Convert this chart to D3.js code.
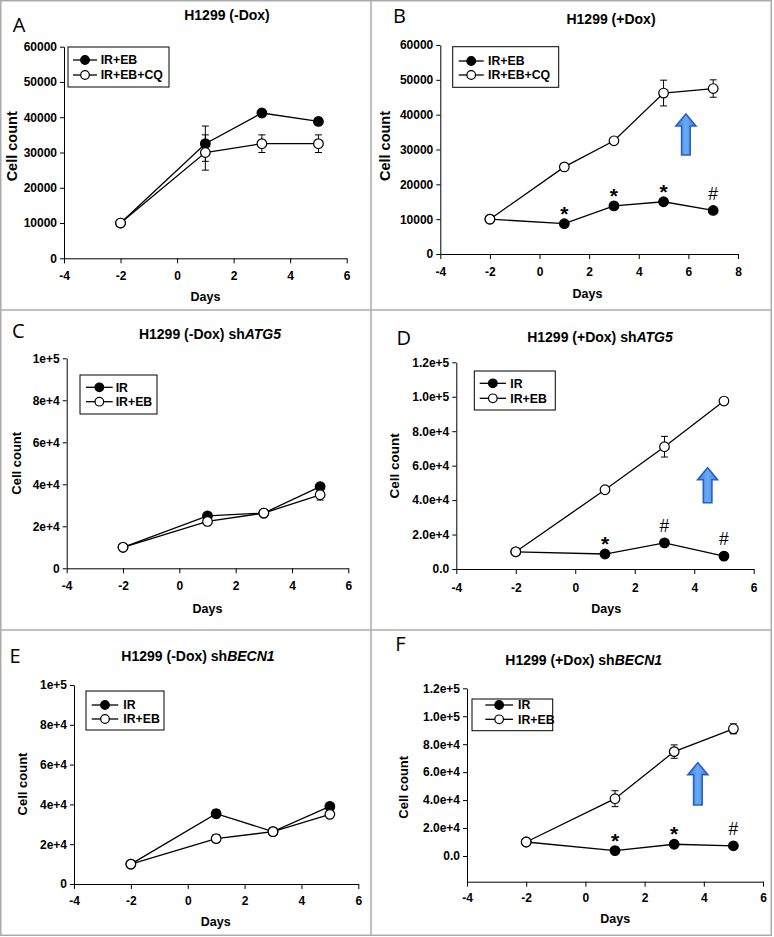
<!DOCTYPE html>
<html><head><meta charset="utf-8">
<script src="https://cdn.jsdelivr.net/npm/d3@7"></script>
<style>
html,body{margin:0;padding:0;background:#fff;}
svg{display:block;}
</style></head>
<body>
<svg id="chart" width="774" height="937"></svg>
<script>
// ---------------- DATA ----------------
const daysAll = [-2, 1, 3, 5];
const daysB = [-2, 1, 3, 5, 7];

const aFilled = [10000, 32500, 41200, 38800];
const aFilledErr = [0, 5000, 1000, 1000];
const aOpen = [10000, 30000, 32500, 32500];
const aOpenErr = [0, 5000, 2500, 2500];

const bFilled = [10000, 8700, 13800, 15000, 12500];
const bFilledErr = [0, 800, 1000, 500, 400];
const bOpen = [10000, 25000, 32500, 46200, 47500];
const bOpenErr = [0, 300, 300, 3700, 2500];

const cFilled = [10000, 25000, 26300, 38900];
const cFilledErr = [0, 1500, 500, 1000];
const cOpen = [10000, 22300, 26300, 35000];
const cOpenErr = [0, 2000, 500, 2500];

const dFilled = [10000, 8700, 15200, 7500];
const dFilledErr = [0, 500, 500, 500];
const dOpen = [10000, 46000, 71000, 97500];
const dOpenErr = [0, 800, 6000, 2000];

const eFilled = [10000, 35300, 26300, 39000];
const eFilledErr = [0, 2000, 500, 800];
const eOpen = [10000, 22800, 26300, 35000];
const eOpenErr = [0, 2000, 500, 1500];

const fFilled = [10000, 3800, 8400, 7300];
const fFilledErr = [0, 500, 500, 500];
const fOpen = [10000, 41000, 74700, 91000];
const fOpenErr = [0, 5700, 4800, 3600];

const legendCQ = ["IR+EB", "IR+EB+CQ"];
const legendEB = ["IR", "IR+EB"];

const xTicks6 = [-4, -2, 0, 2, 4, 6];
const xTicks8 = [-4, -2, 0, 2, 4, 6, 8];
const xTickLabels6 = ["-4", "-2", "0", "2", "4", "6"];
const xTickLabels8 = ["-4", "-2", "0", "2", "4", "6", "8"];
const yTicksAB = [0, 10000, 20000, 30000, 40000, 50000, 60000];
const yLabelsAB = ["0", "10000", "20000", "30000", "40000", "50000", "60000"];
const yTicksCE = [0, 20000, 40000, 60000, 80000, 100000];
const yLabelsCE = ["0", "2e+4", "4e+4", "6e+4", "8e+4", "1e+5"];
const yTicksDF = [0, 20000, 40000, 60000, 80000, 100000, 120000];
const yLabelsDF = ["0.0", "2.0e+4", "4.0e+4", "6.0e+4", "8.0e+4", "1.0e+5", "1.2e+5"];

const bMarks = [[1, "*"], [3, "*"], [5, "*"], [7, "#"]];
const dMarks = [[1, "*"], [3, "#"], [5, "#"]];
const fMarks = [[1, "*"], [3, "*"], [5, "#"]];

// arrows: [day, tip value, base value]
const bArrow = [5.9, 40200, 28400];
const dArrow = [4.45, 58800, 38500];
const fArrow = [3.8, 66800, 36500];

// ---------------- LAYOUT ----------------
const panels = [
  { letter: "A", title: ["H1299 (-Dox)", ""], days: daysAll, filled: aFilled, filledErr: aFilledErr, open: aOpen, openErr: aOpenErr,
    legend: legendCQ, xTicks: xTicks6, xLabels: xTickLabels6, yTicks: yTicksAB, yLabels: yLabelsAB,
    xDom: [-4, 6], yDom: [0, 60000], x0: 64, x1: 346.7, yTop: 46.7, yBot: 258.3,
    letterPos: [19, 24.5], titlePos: [227, 15.3], ylabPos: [12, 146.3], ylabSize: 14.5, daysPos: [205.5, 296.7],
    legBox: [68, 47, 101, 40], legRows: [60, 75], legLine: [73, 97], legText: 100.7, xPad: 8.5, marks: null, arrow: null },
  { letter: "B", title: ["H1299 (+Dox)", ""], days: daysB, filled: bFilled, filledErr: bFilledErr, open: bOpen, openErr: bOpenErr,
    legend: legendCQ, xTicks: xTicks8, xLabels: xTickLabels8, yTicks: yTicksAB, yLabels: yLabelsAB,
    xDom: [-4, 8], yDom: [0, 60000], x0: 440.3, x1: 738, yTop: 45, yBot: 254,
    letterPos: [399.5, 16.3], titlePos: [611, 19], ylabPos: [385, 146], ylabSize: 14.5, daysPos: [587.5, 293.3],
    legBox: [452.7, 46.7, 106, 40.6], legRows: [61, 75], legLine: [458.7, 483.7], legText: 488, xPad: 8, marks: bMarks, arrow: bArrow },
  { letter: "C", title: ["H1299 (-Dox) sh", "ATG5"], days: daysAll, filled: cFilled, filledErr: cFilledErr, open: cOpen, openErr: cOpenErr,
    legend: legendEB, xTicks: xTicks6, xLabels: xTickLabels6, yTicks: yTicksCE, yLabels: yLabelsCE,
    xDom: [-4, 6], yDom: [0, 100000], x0: 66.7, x1: 348.3, yTop: 358.3, yBot: 568.3,
    letterPos: [18.3, 330.8], titlePos: [210, 334.3], ylabPos: [16.7, 463.3], ylabSize: 13, daysPos: [207.5, 608.3],
    legBox: [80, 375, 77, 39], legRows: [387.3, 401.7], legLine: [86, 112.7], legText: 115.7, xPad: 8.5, marks: null, arrow: null },
  { letter: "D", title: ["H1299 (+Dox) sh", "ATG5"], days: daysAll, filled: dFilled, filledErr: dFilledErr, open: dOpen, openErr: dOpenErr,
    legend: legendEB, xTicks: xTicks6, xLabels: xTickLabels6, yTicks: yTicksDF, yLabels: yLabelsDF,
    xDom: [-4, 6], yDom: [0, 120000], x0: 456.3, x1: 753.7, yTop: 362.3, yBot: 569,
    letterPos: [403.7, 338], titlePos: [600, 336.7], ylabPos: [393.7, 465.8], ylabSize: 13.5, daysPos: [606.3, 608.3],
    legBox: [474.3, 371, 81, 39], legRows: [383.3, 398.3], legLine: [479.7, 506], legText: 510.3, xPad: 9, marks: dMarks, arrow: dArrow },
  { letter: "E", title: ["H1299 (-Dox) sh", "BECN1"], days: daysAll, filled: eFilled, filledErr: eFilledErr, open: eOpen, openErr: eOpenErr,
    legend: legendEB, xTicks: xTicks6, xLabels: xTickLabels6, yTicks: yTicksCE, yLabels: yLabelsCE,
    xDom: [-4, 6], yDom: [0, 100000], x0: 74, x1: 358.3, yTop: 685, yBot: 884,
    letterPos: [15, 656], titlePos: [198, 656], ylabPos: [22.3, 784], ylabSize: 13, daysPos: [215.8, 921.7],
    legBox: [86, 691, 78, 39], legRows: [705, 719], legLine: [91.7, 118.3], legText: 123.3, xPad: 7.5, marks: null, arrow: null },
  { letter: "F", title: ["H1299 (+Dox) sh", "BECN1"], days: daysAll, filled: fFilled, filledErr: fFilledErr, open: fOpen, openErr: fOpenErr,
    legend: legendEB, xTicks: xTicks6, xLabels: xTickLabels6, yTicks: yTicksDF, yLabels: yLabelsDF,
    xDom: [-4, 6], yDom: [-18400, 120000], x0: 467, x1: 763, yTop: 688.3, yBot: 881.7,
    letterPos: [400.3, 643.7], titlePos: [583.7, 659.7], ylabPos: [403.7, 787.3], ylabSize: 13, daysPos: [615.3, 918.3],
    legBox: [472, 699, 80.7, 31.7], legRows: [705, 719.3], legLine: [485.3, 513], legText: 518, xPad: 6.5, marks: fMarks, arrow: fArrow }
];

const FONT = "'Liberation Sans', Arial, sans-serif";
const svg = d3.select("#chart");

// blue arrow gradient
const defs = svg.append("defs");
const grad = defs.append("linearGradient").attr("id", "arrowGrad").attr("x1", "0%").attr("x2", "100%");
grad.append("stop").attr("offset", "0%").attr("stop-color", "#3f7fe0");
grad.append("stop").attr("offset", "50%").attr("stop-color", "#6aaaf5");
grad.append("stop").attr("offset", "100%").attr("stop-color", "#3f7fe0");

// panel frames
const frameColor = "#ababab";
svg.append("rect").attr("x", 0.75).attr("y", 0.75).attr("width", 770.5).attr("height", 934.5)
  .attr("fill", "none").attr("stroke", frameColor).attr("stroke-width", 1.5);
svg.append("line").attr("x1", 371).attr("x2", 371).attr("y1", 0).attr("y2", 935)
  .attr("stroke", frameColor).attr("stroke-width", 1.5);
[310, 630].forEach(y => svg.append("line").attr("x1", 0).attr("x2", 771).attr("y1", y).attr("y2", y)
  .attr("stroke", frameColor).attr("stroke-width", 1.5));

panels.forEach(p => {
  const g = svg.append("g");
  const x = d3.scaleLinear().domain(p.xDom).range([p.x0, p.x1]);
  const y = d3.scaleLinear().domain(p.yDom).range([p.yBot, p.yTop]);

  // axes
  const xAxis = d3.axisBottom(x).tickValues(p.xTicks).tickSize(5).tickSizeOuter(0).tickPadding(p.xPad)
    .tickFormat((d, i) => p.xLabels[i]);
  const yAxis = d3.axisLeft(y).tickValues(p.yTicks).tickSize(4).tickSizeOuter(0).tickPadding(3)
    .tickFormat((d, i) => p.yLabels[i]);
  const gx = g.append("g").attr("transform", `translate(0,${p.yBot})`).call(xAxis);
  const gy = g.append("g").attr("transform", `translate(${p.x0},0)`).call(yAxis);
  [gx, gy].forEach(ax => {
    ax.selectAll("path,line").attr("stroke", "#000").attr("stroke-width", 1);
    ax.selectAll("text").attr("font-family", FONT).attr("font-weight", "bold").attr("font-size", 12).attr("fill", "#000");
  });

  // series
  const line = d3.line().x((d, i) => x(p.days[i])).y(d => y(d));
  const drawSeries = (vals, errs, fill) => {
    g.append("path").datum(vals).attr("d", line).attr("fill", "none").attr("stroke", "#000").attr("stroke-width", 1.3);
    const eb = g.append("g");
    vals.forEach((v, i) => {
      if (!errs[i]) return;
      const cx = x(p.days[i]);
      const yt = y(v + errs[i]), yb = y(v - errs[i]);
      eb.append("line").attr("x1", cx).attr("x2", cx).attr("y1", yt).attr("y2", yb).attr("stroke", "#000").attr("stroke-width", 1);
      [yt, yb].forEach(yy => eb.append("line").attr("x1", cx - 3.5).attr("x2", cx + 3.5).attr("y1", yy).attr("y2", yy)
        .attr("stroke", "#000").attr("stroke-width", 1));
    });
    g.append("g").selectAll("circle").data(vals).join("circle")
      .attr("cx", (d, i) => x(p.days[i])).attr("cy", d => y(d)).attr("r", 4.8)
      .attr("fill", fill).attr("stroke", "#000").attr("stroke-width", 1.2);
  };
  drawSeries(p.filled, p.filledErr, "#000");
  drawSeries(p.open, p.openErr, "#fff");

  // significance marks
  if (p.marks) {
    p.marks.forEach(([d, s]) => {
      const i = p.days.indexOf(d);
      const star = s === "*";
      const cy = y(p.filled[i]) - (star ? 15 : 17);
      g.append("text").attr("x", x(d)).attr("y", cy + (star ? 12 : 6.2)).attr("text-anchor", "middle")
        .attr("font-family", FONT).attr("font-weight", star ? "bold" : "normal")
        .attr("font-size", star ? 21 : 17.5).attr("fill", "#000").text(s);
    });
  }

  // blue arrow
  if (p.arrow) {
    const [ad, tipV, baseV] = p.arrow;
    const cx = x(ad), yt = y(tipV), yb = y(baseV);
    const hh = 12, hw = 10, sw = 4.3;
    const pts = [[cx, yt], [cx + hw, yt + hh], [cx + sw, yt + hh], [cx + sw, yb], [cx - sw, yb], [cx - sw, yt + hh], [cx - hw, yt + hh]];
    g.append("polygon").attr("points", pts.map(q => q.join(",")).join(" "))
      .attr("fill", "url(#arrowGrad)").attr("stroke", "#2b5fc0").attr("stroke-width", 1.6).attr("stroke-linejoin", "miter");
  }

  // legend
  const lg = g.append("g");
  lg.append("rect").attr("x", p.legBox[0]).attr("y", p.legBox[1]).attr("width", p.legBox[2]).attr("height", p.legBox[3])
    .attr("fill", "#fff").attr("stroke", "#000").attr("stroke-width", 1);
  p.legend.forEach((name, i) => {
    const ry = p.legRows[i];
    lg.append("line").attr("x1", p.legLine[0]).attr("x2", p.legLine[1]).attr("y1", ry).attr("y2", ry)
      .attr("stroke", "#000").attr("stroke-width", 1.3);
    lg.append("circle").attr("cx", (p.legLine[0] + p.legLine[1]) / 2).attr("cy", ry).attr("r", 4.3)
      .attr("fill", i === 0 ? "#000" : "#fff").attr("stroke", "#000").attr("stroke-width", 1.2);
    lg.append("text").attr("x", p.legText).attr("y", ry + 4.4).attr("font-family", FONT).attr("font-weight", "bold")
      .attr("font-size", 12.3).attr("fill", "#000").text(name);
  });

  // title
  const t = g.append("text").attr("x", p.titlePos[0]).attr("y", p.titlePos[1] + 5.1).attr("text-anchor", "middle")
    .attr("font-family", FONT).attr("font-weight", "bold").attr("font-size", 14).attr("fill", "#000");
  t.append("tspan").text(p.title[0]);
  if (p.title[1]) t.append("tspan").attr("font-style", "italic").text(p.title[1]);

  // panel letter
  g.append("text").attr("x", p.letterPos[0]).attr("y", p.letterPos[1] + 7).attr("text-anchor", "middle")
    .attr("font-family", "'Open Sans', 'Noto Sans', sans-serif").attr("font-size", 20).attr("fill", "#000").text(p.letter);

  // axis titles
  g.append("text").attr("transform", `translate(${p.ylabPos[0]},${p.ylabPos[1]}) rotate(-90)`).attr("dy", "0.36em")
    .attr("text-anchor", "middle").attr("font-family", FONT).attr("font-weight", "bold").attr("font-size", p.ylabSize)
    .attr("fill", "#000").text("Cell count");
  g.append("text").attr("x", p.daysPos[0]).attr("y", p.daysPos[1] + 4.6).attr("text-anchor", "middle")
    .attr("font-family", FONT).attr("font-weight", "bold").attr("font-size", 12.5).attr("fill", "#000").text("Days");
});
</script>
</body></html>
